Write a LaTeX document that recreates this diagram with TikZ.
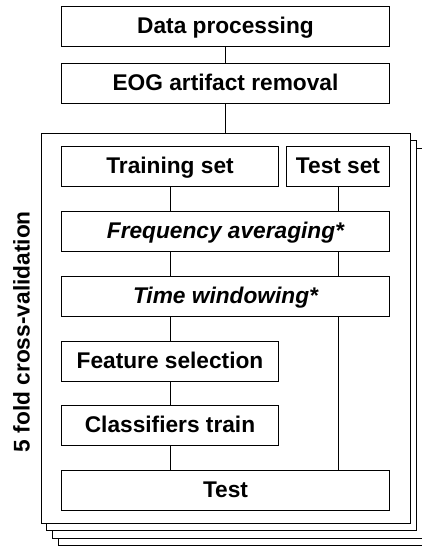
\documentclass[tikz,border=0pt]{standalone}
\usepackage{fontspec}
\setmainfont{Liberation Sans}
\begin{document}
\begin{tikzpicture}[x=1pt,y=-1pt]
\tikzset{
  box/.style={draw, line width=0.9pt, fill=white, minimum height=40pt,
    inner sep=0pt, text height=15.3pt, text depth=1pt,
    font=\fontsize{22.7}{27}\selectfont\bfseries},
  wide/.style={box, minimum width=327.6pt},
  narrow/.style={box, minimum width=216.6pt},
  small/.style={box, minimum width=102.6pt},
  link/.style={line width=0.9pt},
  foldframe/.style={draw, line width=0.9pt, fill=white, inner sep=0pt,
    minimum width=369.7pt, minimum height=389.8pt}
}
\clip (0,0) rectangle (422,546);

% stacked folds, back to front
\node[foldframe] (fold4) at (243.1,350.4) {};
\node[foldframe] (fold3) at (237.2,343.1) {};
\node[foldframe] (fold2) at (231.5,335.7) {};
\node[foldframe] (fold1) at (225.85,328.4) {};

% preprocessing
\node[wide] (dp)  at (225.5,26.5) {Data processing};
\node[wide] (eog) at (225.5,83.3) {EOG artifact removal};

% inside one fold
\node[narrow] (train)   at (170,166)    {Training set};
\node[small]  (testset) at (338,166)    {Test set};
\node[wide]   (freq)    at (225.5,231.2) {\itshape Frequency averaging*};
\node[wide]   (time)    at (225.5,296.3) {\itshape Time windowing*};
\node[narrow] (feat)    at (170,361)    {Feature selection};
\node[narrow] (clf)     at (170,425.7)  {Classifiers train};
\node[wide]   (test)    at (225.5,490.7) {Test};

\node[rotate=90, inner sep=0pt, font=\fontsize{22.7}{27}\selectfont\bfseries]
  (cv) at (21.5,331.7) {5 fold cross-validation};

% connectors
\draw[link] (dp) -- (eog);
\draw[link] (eog) -- (eog |- fold1.north);
\draw[link] (train) -- (train |- freq.north);
\draw[link] (train |- freq.south) -- (train |- time.north);
\draw[link] (train |- time.south) -- (feat);
\draw[link] (feat) -- (clf);
\draw[link] (clf) -- (clf |- test.north);
\draw[link] (testset) -- (testset |- freq.north);
\draw[link] (testset |- freq.south) -- (testset |- time.north);
\draw[link] (testset |- time.south) -- (testset |- test.north);
\end{tikzpicture}
\end{document}
